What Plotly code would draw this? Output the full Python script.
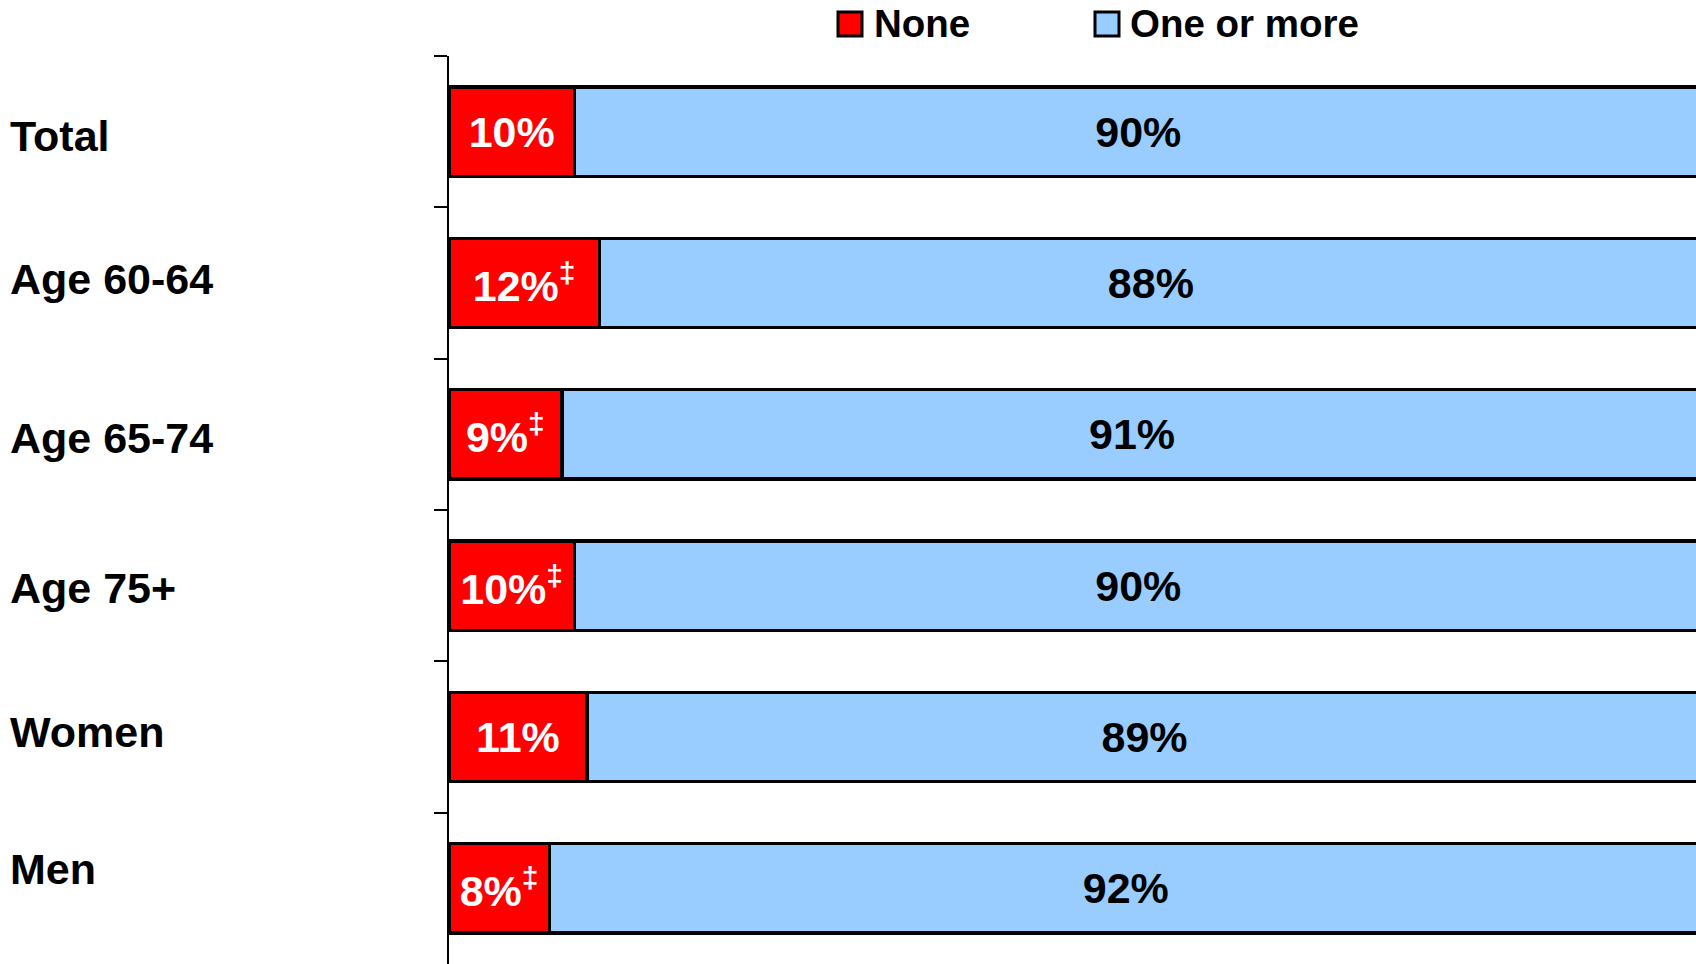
import plotly.graph_objects as go

categories = ["Total", "Age 60-64", "Age 65-74", "Age 75+", "Women", "Men"]
none_vals = [10, 12, 9, 10, 11, 8]
more_vals = [90, 88, 91, 90, 89, 92]
none_flags = ["", "‡", "‡", "‡", "", "‡"]
series_names = ["None", "One or more"]

RED = "#FF0000"
BLUE = "#99CCFF"
FONT = "Liberation Sans"

W, H = 1696, 964
ML, MT = 449, 56
PW, PH = W - ML, H - MT

none_text = [f"{v}%" + (f"<sup>{f}</sup>" if f else "") for v, f in zip(none_vals, none_flags)]
more_text = [f"{v}%" for v in more_vals]

fig = go.Figure()
fig.add_trace(go.Bar(
    y=categories, x=none_vals, orientation="h", name=series_names[0],
    marker=dict(color=RED, line=dict(color="black", width=3.5)),
    text=none_text, textposition="inside", insidetextanchor="middle",
    constraintext="none", textangle=0,
    textfont=dict(family=FONT, size=43, color="white", weight=700),
    width=0.59,
))
fig.add_trace(go.Bar(
    y=categories, x=more_vals, orientation="h", name=series_names[1],
    marker=dict(color=BLUE, line=dict(color="black", width=3.5)),
    text=more_text, textposition="inside", insidetextanchor="middle",
    constraintext="none", textangle=0,
    textfont=dict(family=FONT, size=43, color="black", weight=700),
    width=0.59,
))

# category labels, left aligned at the page edge
label_shift = [-4, 4, -4, -2, 5, 19]
for cat, dy in zip(categories, label_shift):
    fig.add_annotation(
        x=(8 - ML) / PW, xref="paper", xanchor="left",
        y=cat, yref="y", yanchor="middle", yshift=dy,
        text=cat, showarrow=False,
        font=dict(family=FONT, size=43, color="black", weight=700),
    )

# custom legend
def px_x(p):
    return (p - ML) / PW

def px_y(p):
    return (H - p) / PH

legend_items = [(series_names[0], RED, 838, 872), (series_names[1], BLUE, 1095, 1128)]
for name, col, sx, tx in legend_items:
    fig.add_shape(type="rect", xref="paper", yref="paper",
                  x0=px_x(sx), x1=px_x(sx + 24), y0=px_y(36), y1=px_y(12),
                  fillcolor=col, line=dict(color="black", width=3))
    fig.add_annotation(x=px_x(tx), xref="paper", xanchor="left",
                       y=px_y(24), yref="paper", yanchor="middle",
                       text=name, showarrow=False,
                       font=dict(family=FONT, size=38.5, color="black", weight=700))

fig.update_layout(
    barmode="stack",
    width=W, height=H,
    margin=dict(l=ML, r=0, t=MT, b=0, pad=0),
    paper_bgcolor="white", plot_bgcolor="white",
    showlegend=False,
    xaxis=dict(range=[0, 99.5], visible=False, fixedrange=True),
    yaxis=dict(
        type="category", categoryorder="array", categoryarray=categories,
        autorange="reversed", showticklabels=False,
        showline=True, linecolor="black", linewidth=1.5,
        ticks="outside", tickson="boundaries", ticklen=13, tickwidth=2, tickcolor="black",
        showgrid=False, zeroline=False,
    ),
)

fig.write_html(
    "out.html",
    config={"displayModeBar": False},
    post_script="document.body.style.margin='0';document.body.style.overflow='hidden';",
)
